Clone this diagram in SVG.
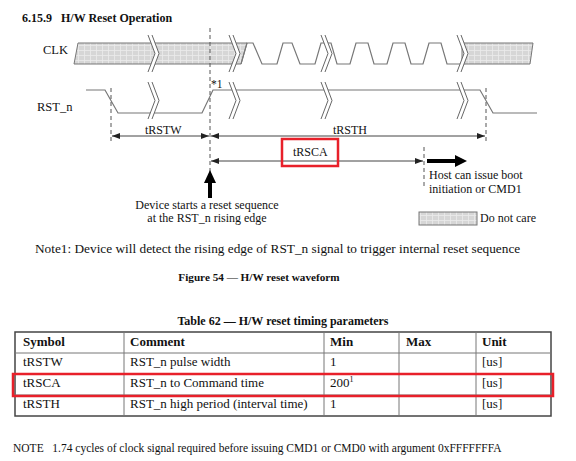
<svg xmlns="http://www.w3.org/2000/svg" width="576" height="461" viewBox="0 0 576 461">
<style>
text{font-family:"Liberation Serif","Times New Roman",serif;fill:#111}
.b{font-weight:bold}
.wave{fill:none;stroke:#777;stroke-width:1.2}
.dash{fill:none;stroke:#555;stroke-width:1;stroke-dasharray:4,3}
.dim{fill:none;stroke:#444;stroke-width:1}
.brk{fill:none;stroke:#666;stroke-width:1}
.hat{fill:url(#hatch);stroke:#777;stroke-width:1}
.red{fill:none;stroke:#e8202a;stroke-width:2.5}
.grid{stroke:#777;stroke-width:1}
</style>
<defs>
<pattern id="hatch" width="6" height="5" patternUnits="userSpaceOnUse">
<rect width="6" height="5" fill="#d6d6d6"/>
<path d="M0,0.5H6M0.5,0V5" stroke="#ebebeb" stroke-width="0.8"/>
</pattern>
<marker id="ah" viewBox="0 0 8 6" refX="8" refY="3" markerWidth="8" markerHeight="6" markerUnits="userSpaceOnUse" orient="auto-start-reverse">
<path d="M0,0L8,3L0,6z" fill="#222"/>
</marker>
</defs>

<text class="b" x="22" y="22" font-size="12" xml:space="preserve">6.15.9   H/W Reset Operation</text>

<g id="clk">
<text x="43" y="54" font-size="12.5">CLK</text>
<polygon class="hat" points="78,43 247,43 241,64 74,64"/>
<path class="wave" d="M241,64L247,43L253,43L262,64L277,64L283,43L292,43L300,64L315,64L321,43L331,43L337,64L350,64L356,43L368,43L374,64L387,64L393,43L405,43L411,64L423,64L429,43L441,43L447,64L462,64"/>
<polygon class="hat" points="462,43 533,43 530,64 462,64"/>
</g>

<g id="rst">
<text x="37" y="111" font-size="12.5">RST_n</text>
<path class="wave" d="M86,90L105,90L118,113L202,113L213,90L480,90L493,113L537,113"/>
<text x="211" y="88" font-size="11.5">*1</text>
</g>

<g id="breaks">
<g transform="translate(148,35)"><polygon points="0,0 4,0 11,18.5 4,37 0,37 7,18.5" fill="#fff"/><path class="brk" d="M0,0L7,18.5L0,37M4,0L11,18.5L4,37"/></g>
<g transform="translate(229,35)"><polygon points="0,0 4,0 11,18.5 4,37 0,37 7,18.5" fill="#fff"/><path class="brk" d="M0,0L7,18.5L0,37M4,0L11,18.5L4,37"/></g>
<g transform="translate(321,35)"><polygon points="0,0 4,0 11,18.5 4,37 0,37 7,18.5" fill="#fff"/><path class="brk" d="M0,0L7,18.5L0,37M4,0L11,18.5L4,37"/></g>
<g transform="translate(457,35)"><polygon points="0,0 4,0 11,18.5 4,37 0,37 7,18.5" fill="#fff"/><path class="brk" d="M0,0L7,18.5L0,37M4,0L11,18.5L4,37"/></g>
<g transform="translate(148,82)"><polygon points="0,0 4,0 11,18.5 4,37 0,37 7,18.5" fill="#fff"/><path class="brk" d="M0,0L7,18.5L0,37M4,0L11,18.5L4,37"/></g>
<g transform="translate(229,82)"><polygon points="0,0 4,0 11,18.5 4,37 0,37 7,18.5" fill="#fff"/><path class="brk" d="M0,0L7,18.5L0,37M4,0L11,18.5L4,37"/></g>
<g transform="translate(321,82)"><polygon points="0,0 4,0 11,18.5 4,37 0,37 7,18.5" fill="#fff"/><path class="brk" d="M0,0L7,18.5L0,37M4,0L11,18.5L4,37"/></g>
<g transform="translate(457,82)"><polygon points="0,0 4,0 11,18.5 4,37 0,37 7,18.5" fill="#fff"/><path class="brk" d="M0,0L7,18.5L0,37M4,0L11,18.5L4,37"/></g>
</g>

<g id="connectors">
<path class="dash" d="M210,28V176"/>
<path class="dash" d="M111,88V142"/>
<path class="dash" d="M486,88V142"/>
<path class="dash" d="M424,147V186"/>
<path class="dim" d="M112,136H209" marker-start="url(#ah)" marker-end="url(#ah)"/>
<path class="dim" d="M211,136H485" marker-start="url(#ah)" marker-end="url(#ah)"/>
<path class="dim" d="M211,161H423" marker-start="url(#ah)" marker-end="url(#ah)"/>
<path d="M210,198V181" stroke="#000" stroke-width="4"/>
<polygon points="204,183 216,183 210,170" fill="#000"/>
<path d="M427,161H457" stroke="#000" stroke-width="4"/>
<polygon points="455,155 467,161 455,167" fill="#000"/>
</g>

<g id="labels">
<text x="145" y="134" font-size="12">tRSTW</text>
<text x="333" y="134" font-size="12">tRSTH</text>
<rect class="red" x="282" y="139" width="56" height="27"/>
<text x="293" y="156" font-size="12">tRSCA</text>
<text x="207" y="209" font-size="12" text-anchor="middle">Device starts a reset sequence</text>
<text x="207" y="222" font-size="12" text-anchor="middle">at the RST_n rising edge</text>
<text x="429" y="179" font-size="12">Host can issue boot</text>
<text x="429" y="193" font-size="12">initiation or CMD1</text>
</g>

<g id="legend">
<rect class="hat" x="419" y="212" width="58" height="13"/>
<text x="480" y="222" font-size="12">Do not care</text>
</g>

<text x="35" y="253" font-size="13.3">Note1: Device will detect the rising edge of RST_n signal to trigger internal reset sequence</text>
<text class="b" x="259" y="281" font-size="11.2" text-anchor="middle">Figure 54 — H/W reset waveform</text>

<text class="b" x="283" y="325" font-size="12" text-anchor="middle">Table 62 — H/W reset timing parameters</text>

<g id="table">
<rect x="15" y="332" width="536" height="84" fill="none" stroke="#444" stroke-width="1.5"/>
<path class="grid" d="M15,353H551M15,374H551M15,395H551M124,332V416M324,332V416M399,332V416M476,332V416"/>
<g font-size="13">
<text class="b" x="23" y="346">Symbol</text>
<text class="b" x="130" y="346">Comment</text>
<text class="b" x="330" y="346">Min</text>
<text class="b" x="406" y="346">Max</text>
<text class="b" x="482" y="346">Unit</text>
<text x="23" y="366">tRSTW</text>
<text x="130" y="366">RST_n pulse width</text>
<text x="330" y="366">1</text>
<text x="482" y="366">[us]</text>
<text x="23" y="387">tRSCA</text>
<text x="130" y="387">RST_n to Command time</text>
<text x="330" y="387">200<tspan font-size="8" dy="-5">1</tspan></text>
<text x="482" y="387">[us]</text>
<text x="23" y="408">tRSTH</text>
<text x="130" y="408">RST_n high period (interval time)</text>
<text x="330" y="408">1</text>
<text x="482" y="408">[us]</text>
</g>
<rect class="red" x="13" y="374" width="540" height="22"/>
</g>

<text x="13" y="452" font-size="11.5" xml:space="preserve">NOTE   1.74 cycles of clock signal required before issuing CMD1 or CMD0 with argument 0xFFFFFFFA</text>
</svg>
